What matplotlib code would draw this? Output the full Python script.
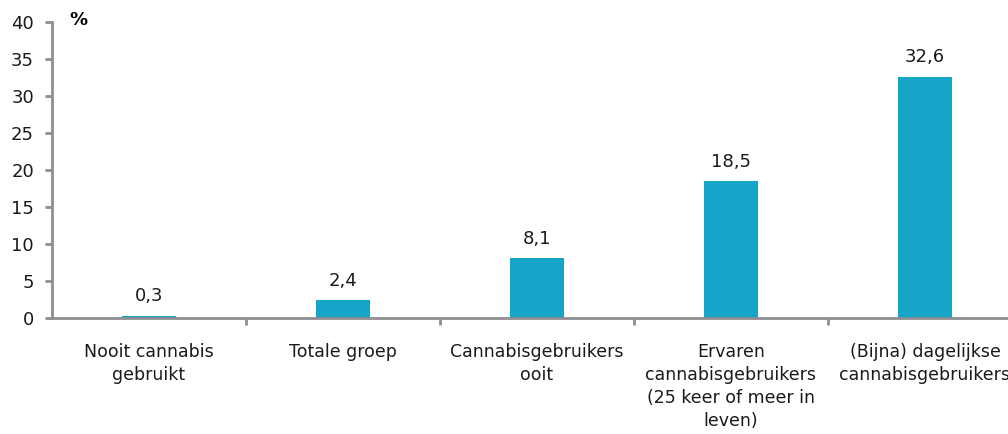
import matplotlib.pyplot as plt
import numpy as np

categories = [
    "Nooit cannabis\ngebruikt",
    "Totale groep",
    "Cannabisgebruikers\nooit",
    "Ervaren\ncannabisgebruikers\n(25 keer of meer in\nleven)",
    "(Bijna) dagelijkse\ncannabisgebruikers",
]
values = [0.3, 2.4, 8.1, 18.5, 32.6]
value_labels = ["0,3", "2,4", "8,1", "18,5", "32,6"]

plt.rcParams["font.family"] = ["DejaVu Sans"]
axis_color = "#8e8e93"
bar_color = "#14a5c8"
text_color = "#1a1a1a"

fig = plt.figure(figsize=(10.08, 4.34), dpi=100)
ax = fig.add_axes([52 / 1008, 1 - 318 / 434, 970 / 1008, 296 / 434])

x = np.arange(len(categories))
ax.bar(x, values, width=0.28, color=bar_color, zorder=2)
for xi, v, lab in zip(x, values, value_labels):
    ax.text(xi, v + 1.4, lab, ha="center", va="bottom", fontsize=13, color=text_color)

ax.set_xlim(-0.5, len(categories) - 0.5)
ax.set_ylim(0, 40)
ax.set_yticks(range(0, 41, 5))

ax.set_xticks(x)
ax.set_xticklabels(categories, fontsize=12.5, color=text_color, linespacing=1.35)
ax.set_xticks(np.arange(0.5, len(categories) - 0.5, 1), minor=True)
ax.tick_params(axis="x", which="major", length=0, pad=18)
ax.tick_params(axis="x", which="minor", length=5, width=2, color=axis_color)
ax.tick_params(axis="y", length=5, width=2, color=axis_color, labelsize=13, labelcolor=text_color, pad=8)

for side in ["top", "right"]:
    ax.spines[side].set_visible(False)
for side in ["left", "bottom"]:
    ax.spines[side].set_color(axis_color)
    ax.spines[side].set_linewidth(2)

fig.text(78 / 1008, 1 - 20 / 434, "%", fontsize=13, fontweight="bold", ha="center", va="center")

fig.savefig("out.png", dpi=100)
